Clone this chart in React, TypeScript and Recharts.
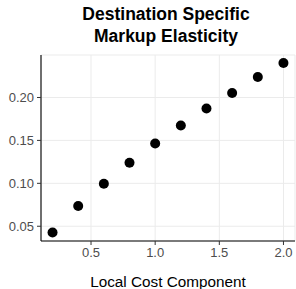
import React from 'react';
import {ScatterChart, Scatter, XAxis, YAxis, CartesianGrid, Label} from 'recharts';

const localCost = [0.2, 0.4, 0.6, 0.8, 1.0, 1.2, 1.4, 1.6, 1.8, 2.0];
const elasticity = [0.0428, 0.0735, 0.0995, 0.124, 0.1463, 0.1673, 0.1872, 0.2052, 0.2238, 0.2402];
const xTicks = [0.5, 1.0, 1.5, 2.0];
const yTicks = [0.05, 0.1, 0.15, 0.2];

const data = localCost.map((x, i) => ({x, y: elasticity[i]}));

const FONT = '"Liberation Sans", Arial, Helvetica, sans-serif';

const Dot = (props: any) => <circle cx={props.cx} cy={props.cy} r={5} fill="#000" />;

const App = () => {
     return (
          <div style={{position: 'absolute', left: 0, top: 0, width: 296, height: 289, fontFamily: FONT}}>
               <div
                    style={{
                         position: 'absolute',
                         left: 39,
                         width: 254,
                         top: 2.5,
                         textAlign: 'center',
                         fontWeight: 'bold',
                         fontSize: 17.5,
                         lineHeight: '22px',
                         color: '#000',
                    }}
               >
                    Destination Specific
                    <br />
                    Markup Elasticity
               </div>
               <ScatterChart width={296} height={289} margin={{top: 55, right: 1, left: 0, bottom: 0}}>
                    <CartesianGrid stroke="#ebebeb" strokeWidth={1} />
                    <XAxis
                         type="number"
                         dataKey="x"
                         domain={[0.11, 2.09]}
                         ticks={xTicks}
                         allowDataOverflow
                         tickFormatter={(v: number) => v.toFixed(1)}
                         height={48}
                         tickSize={4}
                         tickMargin={3}
                         stroke="#000"
                         axisLine={{stroke: '#000', strokeWidth: 1.1}}
                         tickLine={{stroke: '#333'}}
                         tick={{fill: '#4d4d4d', fontSize: 13, fontFamily: FONT}}
                    >
                         <Label
                              value="Local Cost Component"
                              position="insideBottom"
                              offset={2.3}
                              style={{fill: '#000', fontSize: 15.3, fontFamily: FONT}}
                         />
                    </XAxis>
                    <YAxis
                         type="number"
                         dataKey="y"
                         domain={[0.0328, 0.2495]}
                         ticks={yTicks}
                         allowDataOverflow
                         tickFormatter={(v: number) => v.toFixed(2)}
                         width={41}
                         tickSize={4}
                         tickMargin={3}
                         stroke="#000"
                         axisLine={{stroke: '#000', strokeWidth: 1.1}}
                         tickLine={{stroke: '#333'}}
                         tick={{fill: '#4d4d4d', fontSize: 13, fontFamily: FONT}}
                    />
                    <Scatter data={data} fill="#000" shape={Dot} isAnimationActive={false} />
               </ScatterChart>
          </div>
     );
};

export default App;
